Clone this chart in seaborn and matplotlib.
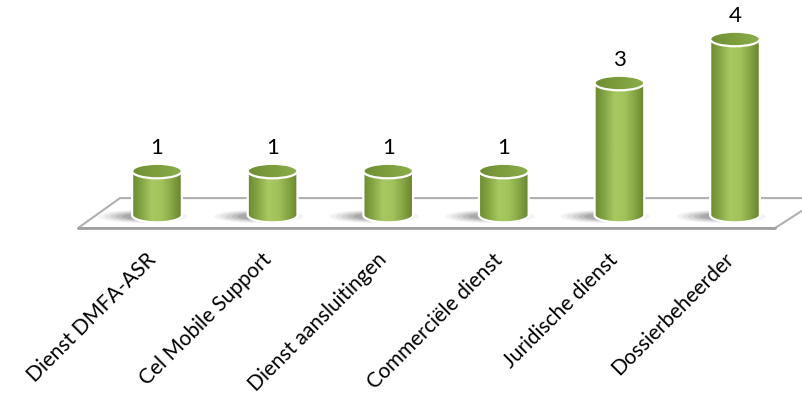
import numpy as np
import pandas as pd
import matplotlib
matplotlib.use("Agg")
import matplotlib.pyplot as plt
import seaborn as sns
from matplotlib.patches import Ellipse, Polygon, PathPatch
from matplotlib.path import Path
from matplotlib.colors import LinearSegmentedColormap

categories = ["Dienst DMFA-ASR", "Cel Mobile Support", "Dienst aansluitingen",
              "Commerciële dienst", "Juridische dienst", "Dossierbeheerder"]
values = [1, 1, 1, 1, 3, 4]

sns.set_theme(style="white")
plt.rcParams["font.family"] = ["Lato", "DejaVu Sans"]

fig = plt.figure(figsize=(8.03, 3.96), dpi=100)
ax = fig.add_axes([0, 0, 1, 1])
df = pd.DataFrame({"cat": categories, "val": values})
BW = 0.43
sns.barplot(data=df, x="cat", y="val", ax=ax, width=BW, color="#9BBB59",
            saturation=1, zorder=3)

ax.set_xlim(-1.358, 5.588)
ax.set_ylim(-4.11, 4.886)
ax.axis("off")

n = len(categories)
# floor
floor = Polygon([(-0.683, -0.295), (-0.32, 0.386), (n - 1 + 0.75, 0.386),
                 (n - 1 + 0.346, -0.295)], closed=True, facecolor="white",
                edgecolor="#B0B0B0", lw=1.5, zorder=1)
ax.add_patch(floor)
ax.plot([-0.683, n - 1 + 0.346], [-0.295, -0.295], color="#A0A0A0", lw=2.0, zorder=1.1)

EH = 0.33  # ellipse height (data units)
body_cmap = LinearSegmentedColormap.from_list(
    "body", ["#6C8A30", "#86A745", "#A8C962", "#A2C35C", "#86A645", "#66832C"])
top_cmap = LinearSegmentedColormap.from_list(
    "top", ["#6F8E33", "#7E9E3E", "#8CAE4B"])
grad = np.linspace(0, 1, 256).reshape(1, -1)

for p in ax.patches:
    if p is floor:
        continue
    h = p.get_height()
    if h <= 0:
        continue
    x0 = p.get_x()
    w = p.get_width()
    xc = x0 + w / 2
    p.set_alpha(0)
    # shadow (soft, to the left of the base)
    for k, a in enumerate([0.06, 0.08, 0.10, 0.13, 0.16]):
        sc = 1.0 - k * 0.13
        ax.add_patch(Ellipse((xc - 0.12, -0.03), (w + 0.34) * sc, 0.30 * sc,
                             facecolor="#3C3C3C", edgecolor="none", alpha=a, zorder=2))
    # body path: rectangle + lower half ellipse
    t = np.linspace(np.pi, 2 * np.pi, 60)
    bx = xc + (w / 2) * np.cos(t)
    by = (EH / 2) * np.sin(t)
    verts = list(zip(bx, by)) + [(xc + w / 2, h), (xc - w / 2, h), (xc - w / 2, 0)]
    path = Path(verts, closed=False)
    outline = PathPatch(path, facecolor="none", edgecolor="white", lw=1.6, zorder=4)
    clip = PathPatch(path, facecolor="none", edgecolor="none", transform=ax.transData)
    im = ax.imshow(grad, cmap=body_cmap, aspect="auto",
                   extent=(xc - w / 2, xc + w / 2, -EH / 2, h), zorder=3.5)
    im.set_clip_path(clip)
    ax.add_patch(outline)
    # top ellipse
    top = Ellipse((xc, h), w, EH, facecolor="none", edgecolor="none", zorder=5)
    ax.add_patch(top)
    im2 = ax.imshow(grad, cmap=top_cmap, aspect="auto",
                    extent=(xc - w / 2, xc + w / 2, h - EH / 2, h + EH / 2), zorder=5)
    im2.set_clip_path(top)
    ax.add_patch(Ellipse((xc, h), w, EH, facecolor="none", edgecolor="white",
                         lw=1.6, zorder=6))
    ax.text(xc, h + 0.52, f"{int(round(h))}", ha="center", va="center",
            fontsize=16, color="black", zorder=7)

for i, lab in enumerate(categories):
    ax.text(i - 0.10, -0.78, lab, rotation=45, rotation_mode="anchor",
            ha="right", va="top", fontsize=15, color="black")

fig.savefig("out.png", dpi=100)
